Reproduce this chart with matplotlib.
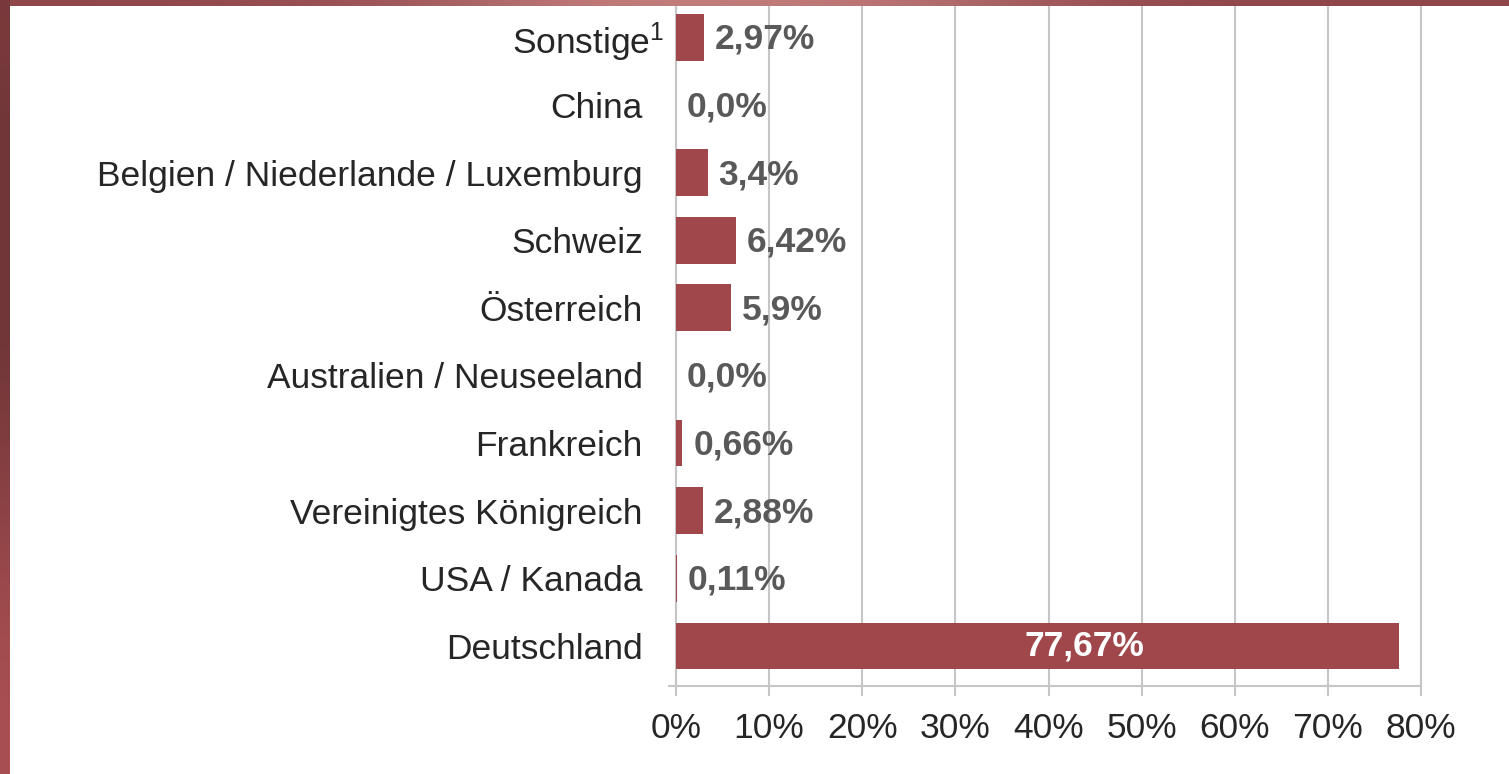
import numpy as np
import matplotlib
matplotlib.use("Agg")
import matplotlib.pyplot as plt
from matplotlib.ticker import FuncFormatter
from matplotlib.transforms import ScaledTranslation

plt.rcParams['font.family'] = ['Liberation Sans', 'DejaVu Sans']
plt.rcParams['mathtext.fontset'] = 'custom'
plt.rcParams['mathtext.rm'] = 'Liberation Sans'
plt.rcParams['mathtext.default'] = 'regular'

# data (bottom to top)
laender = ["Deutschland", "USA / Kanada", "Vereinigtes Königreich", "Frankreich",
           "Australien / Neuseeland", "Österreich", "Schweiz",
           "Belgien / Niederlande / Luxemburg", "China", "Sonstige$^{1}$"]
anteile = [77.67, 0.11, 2.88, 0.66, 0.0, 5.9, 6.42, 3.4, 0.0, 2.97]
beschriftung = ["77,67%", "0,11%", "2,88%", "0,66%", "0,0%", "5,9%", "6,42%",
                "3,4%", "0,0%", "2,97%"]
xticks = [0, 10, 20, 30, 40, 50, 60, 70, 80]

bar_col = "#9f474b"
grid_col = "#c6c6c6"
fsize = 25.5

fig = plt.figure(figsize=(15.09, 7.74), dpi=100)
fig.patch.set_facecolor("white")

# slide frame (left and top red border)
frame_top = fig.add_axes([0, 1 - 6/774, 1, 6/774])
top_grad = np.array([[0.0, 0.1, 0.35, 1.0, 1.0, 0.8, 0.2, 0.0, 0.0]])
frame_top.imshow(top_grad, aspect="auto", cmap=matplotlib.colors.LinearSegmentedColormap.from_list(
    "fr", ["#8e4649", "#c27c7a"]), interpolation="bicubic", extent=[0, 1, 0, 1])
frame_top.axis("off")
frame_left = fig.add_axes([0, 0, 10/1509, 1])
left_grad = np.array([[0.2], [0.0], [0.1], [0.0], [0.3], [0.6], [0.9], [1.0]])
frame_left.imshow(left_grad, aspect="auto", cmap=matplotlib.colors.LinearSegmentedColormap.from_list(
    "fl", ["#6e3537", "#a84f52"]), interpolation="bicubic", extent=[0, 1, 0, 1])
frame_left.axis("off")

ax = fig.add_axes([676/1509, 88/774, (1421-676)/1509, 686/774])
ax.set_zorder(-1)
y = np.arange(len(laender))
ax.barh(y, anteile, height=0.69, color=bar_col, zorder=3)

for i, (v, t) in enumerate(zip(anteile, beschriftung)):
    if v > 50:
        ax.text(v * 0.565, i, t, color="white", fontsize=fsize, fontweight="bold",
                ha="center", va="center", zorder=4)
    else:
        ax.annotate(t, (v, i), xytext=(11, -2), textcoords="offset pixels",
                    color="#595959", fontsize=fsize, fontweight="bold",
                    ha="left", va="center", zorder=4)

ax.set_xlim(0, 80)
ax.set_ylim(-0.59, 9.55)
ax.set_xticks(xticks)
ax.xaxis.set_major_formatter(FuncFormatter(lambda v, p: "%d%%" % v))
ax.set_yticks(y)
ax.set_yticklabels(laender)
ax.set_yticks([-0.59], minor=True)
ax.tick_params(axis="y", which="major", length=0, pad=24, labelsize=fsize, labelcolor="#262626")
ax.tick_params(axis="y", which="minor", length=6, width=1.5, color=grid_col, direction="out")
ax.tick_params(axis="x", length=7, width=1.5, color=grid_col, pad=12, labelsize=fsize,
               labelcolor="#262626")
ax.grid(axis="x", color=grid_col, linewidth=1.5, zorder=0)
for line in ax.get_xgridlines():
    line.set_clip_on(False)
for s in ["top", "right"]:
    ax.spines[s].set_visible(False)
for s in ["left", "bottom"]:
    ax.spines[s].set_color(grid_col)
    ax.spines[s].set_linewidth(1.5)

# superscript of "Sonstige" sticks out past the label edge
lab = ax.get_yticklabels()[-1]
lab.set_transform(lab.get_transform() + ScaledTranslation(0.22, 0, fig.dpi_scale_trans))

plt.savefig("out.png", dpi=100)
